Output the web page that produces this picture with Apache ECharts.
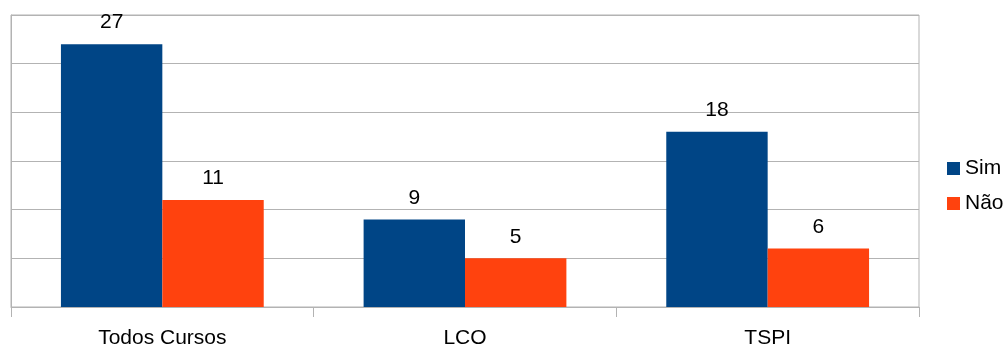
<!doctype html>
<html lang="pt">

<head>
    <meta charset="utf-8">
    <title>Sim / Não por curso</title>
    <script src="https://cdn.jsdelivr.net/npm/echarts@6/dist/echarts.min.js"></script>
    <style>
        html, body { margin: 0; padding: 0; background: #fff; }
        #chart { width: 1008px; height: 349px; }
    </style>
</head>

<body>
    <div id="chart"></div>
    <script type="text/javascript">
        var cursos = ['Todos Cursos', 'LCO', 'TSPI'];
        var sim = [27, 9, 18];
        var nao = [11, 5, 6];

        var chart = echarts.init(document.getElementById('chart'));
        var option = {
            animation: false,
            textStyle: { fontFamily: 'Liberation Sans', color: '#000' },
            grid: {
                left: 11, right: 89, top: 15, bottom: 41,
                show: true, borderColor: '#b3b3b3', borderWidth: 1
            },
            legend: {
                orient: 'vertical',
                left: 942, top: 153,
                itemWidth: 13, itemHeight: 13, itemGap: 14,
                icon: 'rect',
                textStyle: { fontSize: 21, color: '#000' },
                data: ['Sim', 'Não']
            },
            xAxis: {
                type: 'category',
                data: cursos,
                axisLine: { lineStyle: { color: '#b3b3b3' } },
                axisTick: { show: true, inside: false, length: 10, lineStyle: { color: '#b3b3b3', width: 1 } },
                axisLabel: { fontSize: 21, color: '#000', margin: 21 }
            },
            yAxis: {
                type: 'value',
                min: 0, max: 30, interval: 5,
                axisLabel: { show: false },
                axisLine: { show: true, lineStyle: { color: '#b3b3b3' } },
                splitLine: { lineStyle: { color: '#b3b3b3' } }
            },
            series: [{
                name: 'Sim',
                type: 'bar',
                data: sim,
                barGap: 0,
                barCategoryGap: '33%',
                itemStyle: { color: '#004586' },
                label: { show: true, position: 'top', distance: 11, fontSize: 21, color: '#000' }
            }, {
                name: 'Não',
                type: 'bar',
                data: nao,
                itemStyle: { color: '#ff420e' },
                label: { show: true, position: 'top', distance: 11, fontSize: 21, color: '#000' }
            }]
        };
        chart.setOption(option);
    </script>
</body>

</html>
